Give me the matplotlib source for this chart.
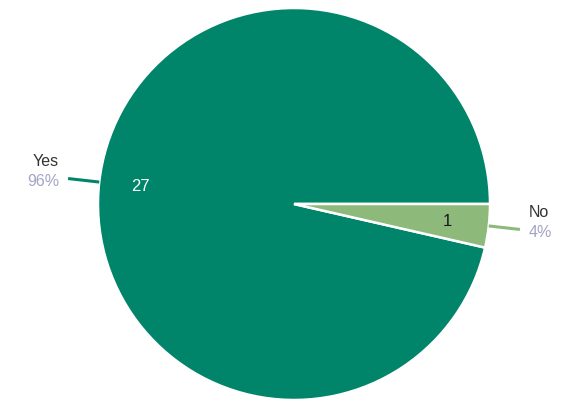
import numpy as np
import matplotlib
matplotlib.use('Agg')
import matplotlib.pyplot as plt

categories = ['Yes', 'No']
counts = [27, 1]
percent_labels = ['96%', '4%']
colors = ['#00856a', '#8dba7a']
count_colors = ['white', '#1a1a1a']

plt.rcParams['font.family'] = ['Liberation Sans', 'DejaVu Sans']

# figure in pixels: pie center and radius picked to match the reference
W, H = 565, 401
CX, CY, R = 294, 204, 196

fig = plt.figure(figsize=(W / 100, H / 100), dpi=100)
ax = fig.add_axes([0, 0, 1, 1])

total = sum(counts)
start = -360.0 * counts[-1] / total

wedges, texts = ax.pie(
    counts,
    colors=colors,
    startangle=start,
    counterclock=False,
    wedgeprops={'edgecolor': 'white', 'linewidth': 1.8},
)

ax.set_xlim(-CX / R, (W - CX) / R)
ax.set_ylim(-(H - CY) / R, CY / R)
ax.set_aspect('auto')
ax.axis('off')

px = 1.0 / R
for w, name, pct, n, tc, col in zip(wedges, categories, percent_labels,
                                     counts, count_colors, colors):
    mid = np.deg2rad((w.theta1 + w.theta2) / 2)
    c, s = np.cos(mid), np.sin(mid)

    # count inside the slice
    ax.text(0.79 * c, 0.79 * s, str(n), color=tc, fontsize=12,
            ha='center', va='center')

    # leader line
    ax.plot([1.0 * c, 1.16 * c], [1.0 * s, 1.16 * s],
            color=col, lw=2.2, solid_capstyle='butt')

    ex, ey = 1.16 * c, 1.16 * s
    if c < 0:
        tx, ha = ex - 9 * px, 'right'
    else:
        tx, ha = ex + 9 * px, 'left'
    ax.text(tx, ey + 17 * px, name, color='#333333', fontsize=11.5,
            ha=ha, va='center')
    ax.text(tx, ey - 3 * px, pct, color='#a4a4c8', fontsize=11.5,
            ha=ha, va='center')

fig.savefig('out.png', dpi=100)
